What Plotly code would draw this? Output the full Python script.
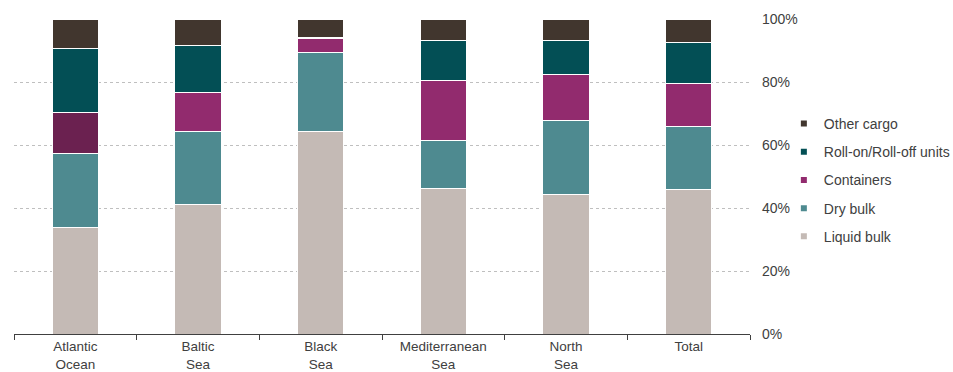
import plotly.graph_objects as go

categories = ["Atlantic<br>Ocean", "Baltic<br>Sea", "Black<br>Sea", "Mediterranean<br>Sea", "North<br>Sea", "Total"]
liquid_bulk = [33.9, 41.2, 64.2, 46.2, 44.2, 46.0]
dry_bulk = [23.5, 23.0, 25.2, 15.3, 23.5, 20.0]
containers = [13.0, 12.4, 4.5, 18.9, 14.8, 13.5]
roro_units = [20.3, 15.1, 0.3, 12.8, 10.7, 13.0]
other_cargo = [9.3, 8.3, 5.8, 6.8, 6.8, 7.5]

series_names = ["Liquid bulk", "Dry bulk", "Containers", "Roll-on/Roll-off units", "Other cargo"]
series_values = [liquid_bulk, dry_bulk, containers, roro_units, other_cargo]
series_colors = ["#C4BAB5", "#4E8A90", "#922B6E", "#034F55", "#41362E"]
atlantic_container_color = "#6B2150"

font_family = "Liberation Sans, Arial, sans-serif"
text_color = "#404040"

fig = go.Figure()
for name, vals, col in zip(series_names, series_values, series_colors):
    colors = [col] * len(categories)
    if name == "Containers":
        colors[0] = atlantic_container_color
    fig.add_trace(go.Bar(
        x=categories, y=vals, name=name, showlegend=False,
        marker=dict(color=colors, line=dict(color="white", width=1)),
        width=0.38,
    ))

# legend entries
for i, (name, col) in enumerate(zip(series_names, series_colors)):
    fig.add_trace(go.Scatter(
        x=[None], y=[None], mode="markers", name=name,
        legendgroup=name, legendrank=100 - i,
        marker=dict(symbol="square", size=6, color=col),
    ))

fig.update_layout(
    width=953, height=372,
    margin=dict(l=14, r=203, t=19, b=38, autoexpand=False),
    barmode="stack",
    plot_bgcolor="white", paper_bgcolor="white",
    font=dict(family=font_family, size=14, color=text_color),
    legend=dict(
        x=1.046, y=0.489, xanchor="left", yanchor="middle",
        font=dict(size=14, color=text_color),
        tracegroupgap=7,
        bgcolor="rgba(0,0,0,0)",
    ),
    xaxis=dict(
        type="category", range=[-0.5, 5.5], automargin=False,
        showline=True, linecolor="#404040", linewidth=1,
        ticks="outside", tickson="boundaries", ticklen=5, tickcolor="#404040",
        showgrid=False, ticklabelstandoff=0,
        tickfont=dict(size=13.5, color=text_color),
    ),
    yaxis=dict(
        side="right", range=[0, 100], dtick=20, ticksuffix="%", automargin=False,
        showgrid=True, gridcolor="#BFBFBF", griddash="dot", gridwidth=1,
        zeroline=False, showline=False,
        ticklabelstandoff=11,
        tickfont=dict(size=14, color=text_color),
    ),
)

fig.write_html("out.html")
